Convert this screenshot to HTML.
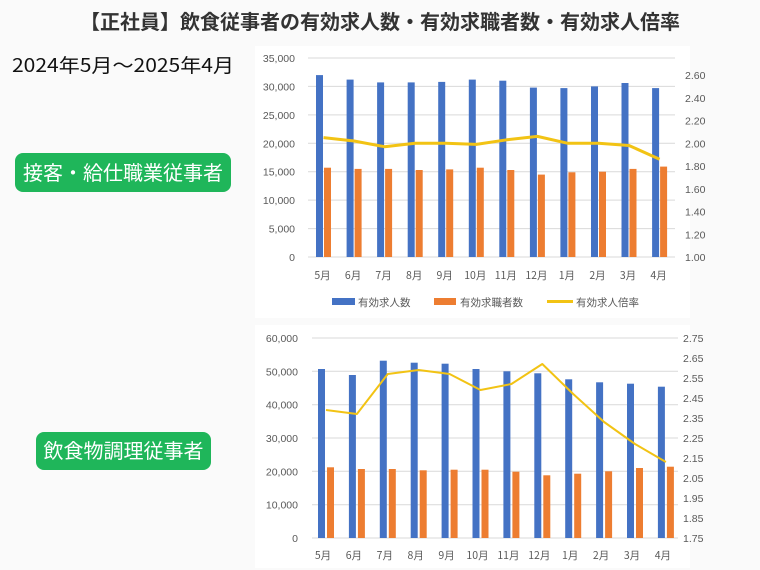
<!DOCTYPE html>
<html><head><meta charset="utf-8"><style>
body{margin:0;background:#fafafa;}
svg{display:block;font-family:"Liberation Sans","Noto Sans CJK JP",sans-serif;}
</style></head><body>
<svg width="760" height="570" viewBox="0 0 760 570" xmlns="http://www.w3.org/2000/svg">
<rect width="760" height="570" fill="#fafafa"/>
<text x="380" y="29" text-anchor="middle" font-size="20" font-weight="bold" fill="#333" font-family="'Noto Sans CJK JP',sans-serif">【正社員】飲食従事者の有効求人数・有効求職者数・有効求人倍率</text>
<text x="12" y="72" font-size="19" fill="#111" font-family="'Noto Sans CJK JP',sans-serif" textLength="222" lengthAdjust="spacingAndGlyphs">2024年5月～2025年4月</text>
<rect x="15" y="153" width="216" height="39" rx="8" fill="#1fb65a"/>
<text x="123" y="180" text-anchor="middle" font-size="20" fill="#fff" font-family="'Noto Sans CJK JP',sans-serif">接客・給仕職業従事者</text>
<rect x="36" y="432" width="175" height="38" rx="8" fill="#1fb65a"/>
<text x="123.5" y="458" text-anchor="middle" font-size="20" fill="#fff" font-family="'Noto Sans CJK JP',sans-serif">飲食物調理従事者</text>

<rect x="255" y="46" width="435" height="272" fill="#fff"/>
<rect x="255" y="325" width="435" height="243" fill="#fff"/>

<g stroke="#d9d9d9" stroke-width="1">
<line x1="308" x2="675" y1="257" y2="257"/><line x1="308" x2="675" y1="228.6" y2="228.6"/><line x1="308" x2="675" y1="200.1" y2="200.1"/><line x1="308" x2="675" y1="171.7" y2="171.7"/><line x1="308" x2="675" y1="143.3" y2="143.3"/><line x1="308" x2="675" y1="114.9" y2="114.9"/><line x1="308" x2="675" y1="86.4" y2="86.4"/><line x1="308" x2="675" y1="58" y2="58"/>
<line x1="312" x2="678" y1="538" y2="538"/><line x1="312" x2="678" y1="504.7" y2="504.7"/><line x1="312" x2="678" y1="471.3" y2="471.3"/><line x1="312" x2="678" y1="438" y2="438"/><line x1="312" x2="678" y1="404.7" y2="404.7"/><line x1="312" x2="678" y1="371.3" y2="371.3"/><line x1="312" x2="678" y1="338" y2="338"/>
</g>

<g font-size="10.5" fill="#595959" text-anchor="end">
<text x="295" y="261">0</text><text x="295" y="232.6">5,000</text><text x="295" y="204.1">10,000</text><text x="295" y="175.7">15,000</text><text x="295" y="147.3">20,000</text><text x="295" y="118.9">25,000</text><text x="295" y="90.4">30,000</text><text x="295" y="62">35,000</text>
<text x="298" y="542">0</text><text x="298" y="508.7">10,000</text><text x="298" y="475.3">20,000</text><text x="298" y="442">30,000</text><text x="298" y="408.7">40,000</text><text x="298" y="375.3">50,000</text><text x="298" y="342">60,000</text>
</g>
<g font-size="10.5" fill="#595959">
<text x="685" y="261">1.00</text><text x="685" y="238.3">1.20</text><text x="685" y="215.5">1.40</text><text x="685" y="192.8">1.60</text><text x="685" y="170">1.80</text><text x="685" y="147.3">2.00</text><text x="685" y="124.5">2.20</text><text x="685" y="101.8">2.40</text><text x="685" y="79">2.60</text>
<text x="683" y="542">1.75</text><text x="683" y="522">1.85</text><text x="683" y="502">1.95</text><text x="683" y="482">2.05</text><text x="683" y="462">2.15</text><text x="683" y="442">2.25</text><text x="683" y="422">2.35</text><text x="683" y="402">2.45</text><text x="683" y="382">2.55</text><text x="683" y="362">2.65</text><text x="683" y="342">2.75</text>
</g>

<g fill="#4472c4">
<rect x="316" y="75.1" width="7" height="181.9"/><rect x="346.6" y="79.6" width="7" height="177.4"/><rect x="377.1" y="82.4" width="7" height="174.6"/><rect x="407.7" y="82.4" width="7" height="174.6"/><rect x="438.2" y="81.9" width="7" height="175.1"/><rect x="468.8" y="79.6" width="7" height="177.4"/><rect x="499.3" y="80.7" width="7" height="176.3"/><rect x="529.9" y="87.6" width="7" height="169.4"/><rect x="560.4" y="88.1" width="7" height="168.9"/><rect x="591" y="86.4" width="7" height="170.6"/><rect x="621.5" y="83" width="7" height="174"/><rect x="652.1" y="88.1" width="7" height="168.9"/>
<rect x="318" y="369" width="7" height="169"/><rect x="348.9" y="375" width="7" height="163"/><rect x="379.8" y="360.7" width="7" height="177.3"/><rect x="410.7" y="362.7" width="7" height="175.3"/><rect x="441.6" y="363.7" width="7" height="174.3"/><rect x="472.5" y="369" width="7" height="169"/><rect x="503.4" y="371.3" width="7" height="166.7"/><rect x="534.3" y="373.3" width="7" height="164.7"/><rect x="565.2" y="379.3" width="7" height="158.7"/><rect x="596.1" y="382.3" width="7" height="155.7"/><rect x="627" y="383.7" width="7" height="154.3"/><rect x="657.9" y="386.7" width="7" height="151.3"/>
</g>
<g fill="#ed7d31">
<rect x="324" y="167.7" width="7" height="89.3"/><rect x="354.6" y="168.9" width="7" height="88.1"/><rect x="385.1" y="168.9" width="7" height="88.1"/><rect x="415.7" y="170" width="7" height="87"/><rect x="446.2" y="169.4" width="7" height="87.6"/><rect x="476.8" y="167.7" width="7" height="89.3"/><rect x="507.3" y="170" width="7" height="87"/><rect x="537.9" y="174.6" width="7" height="82.4"/><rect x="568.4" y="172.3" width="7" height="84.7"/><rect x="599" y="171.7" width="7" height="85.3"/><rect x="629.5" y="168.9" width="7" height="88.1"/><rect x="660.1" y="166.6" width="7" height="90.4"/>
<rect x="327" y="467.3" width="7" height="70.7"/><rect x="357.9" y="469" width="7" height="69"/><rect x="388.8" y="469" width="7" height="69"/><rect x="419.7" y="470.3" width="7" height="67.7"/><rect x="450.6" y="469.7" width="7" height="68.3"/><rect x="481.5" y="469.7" width="7" height="68.3"/><rect x="512.4" y="471.7" width="7" height="66.3"/><rect x="543.3" y="475.3" width="7" height="62.7"/><rect x="574.2" y="473.7" width="7" height="64.3"/><rect x="605.1" y="471.3" width="7" height="66.7"/><rect x="636" y="468" width="7" height="70"/><rect x="666.9" y="466.7" width="7" height="71.3"/>
</g>
<polyline fill="none" stroke="#f2c314" stroke-width="3" stroke-linejoin="round" points="323.5,137.6 354.1,141 384.6,146.7 415.2,143.3 445.7,143.3 476.3,144.4 506.8,139.8 537.4,136.4 567.9,143.3 598.5,143.3 629,145.5 659.6,159.2"/>
<polyline fill="none" stroke="#f2c314" stroke-width="2" stroke-linejoin="round" points="326,410 356.9,414 387.8,374 418.7,370 449.6,374 480.5,390 511.4,384 542.3,364 573.2,394 604.1,422 635,444 665.9,462"/>

<g font-size="10.5" fill="#595959" text-anchor="middle" font-family="'Noto Sans CJK JP',sans-serif">
<text x="322.5" y="279">5月</text><text x="353.1" y="279">6月</text><text x="383.6" y="279">7月</text><text x="414.2" y="279">8月</text><text x="444.7" y="279">9月</text><text x="475.3" y="279">10月</text><text x="505.8" y="279">11月</text><text x="536.4" y="279">12月</text><text x="566.9" y="279">1月</text><text x="597.5" y="279">2月</text><text x="628" y="279">3月</text><text x="658.6" y="279">4月</text>
<text x="323" y="559">5月</text><text x="353.9" y="559">6月</text><text x="384.8" y="559">7月</text><text x="415.7" y="559">8月</text><text x="446.6" y="559">9月</text><text x="477.5" y="559">10月</text><text x="508.4" y="559">11月</text><text x="539.3" y="559">12月</text><text x="570.2" y="559">1月</text><text x="601.1" y="559">2月</text><text x="632" y="559">3月</text><text x="662.9" y="559">4月</text>
</g>
<rect x="332" y="298" width="23" height="7" fill="#4472c4"/>
<rect x="434" y="298" width="22" height="7" fill="#ed7d31"/>
<line x1="547" x2="573" y1="301.5" y2="301.5" stroke="#f2c314" stroke-width="3"/>
<g font-size="10.5" fill="#595959" font-family="'Noto Sans CJK JP',sans-serif">
<text x="358" y="306">有効求人数</text><text x="460" y="306">有効求職者数</text><text x="576" y="306">有効求人倍率</text>
</g>
</svg>
</body></html>
